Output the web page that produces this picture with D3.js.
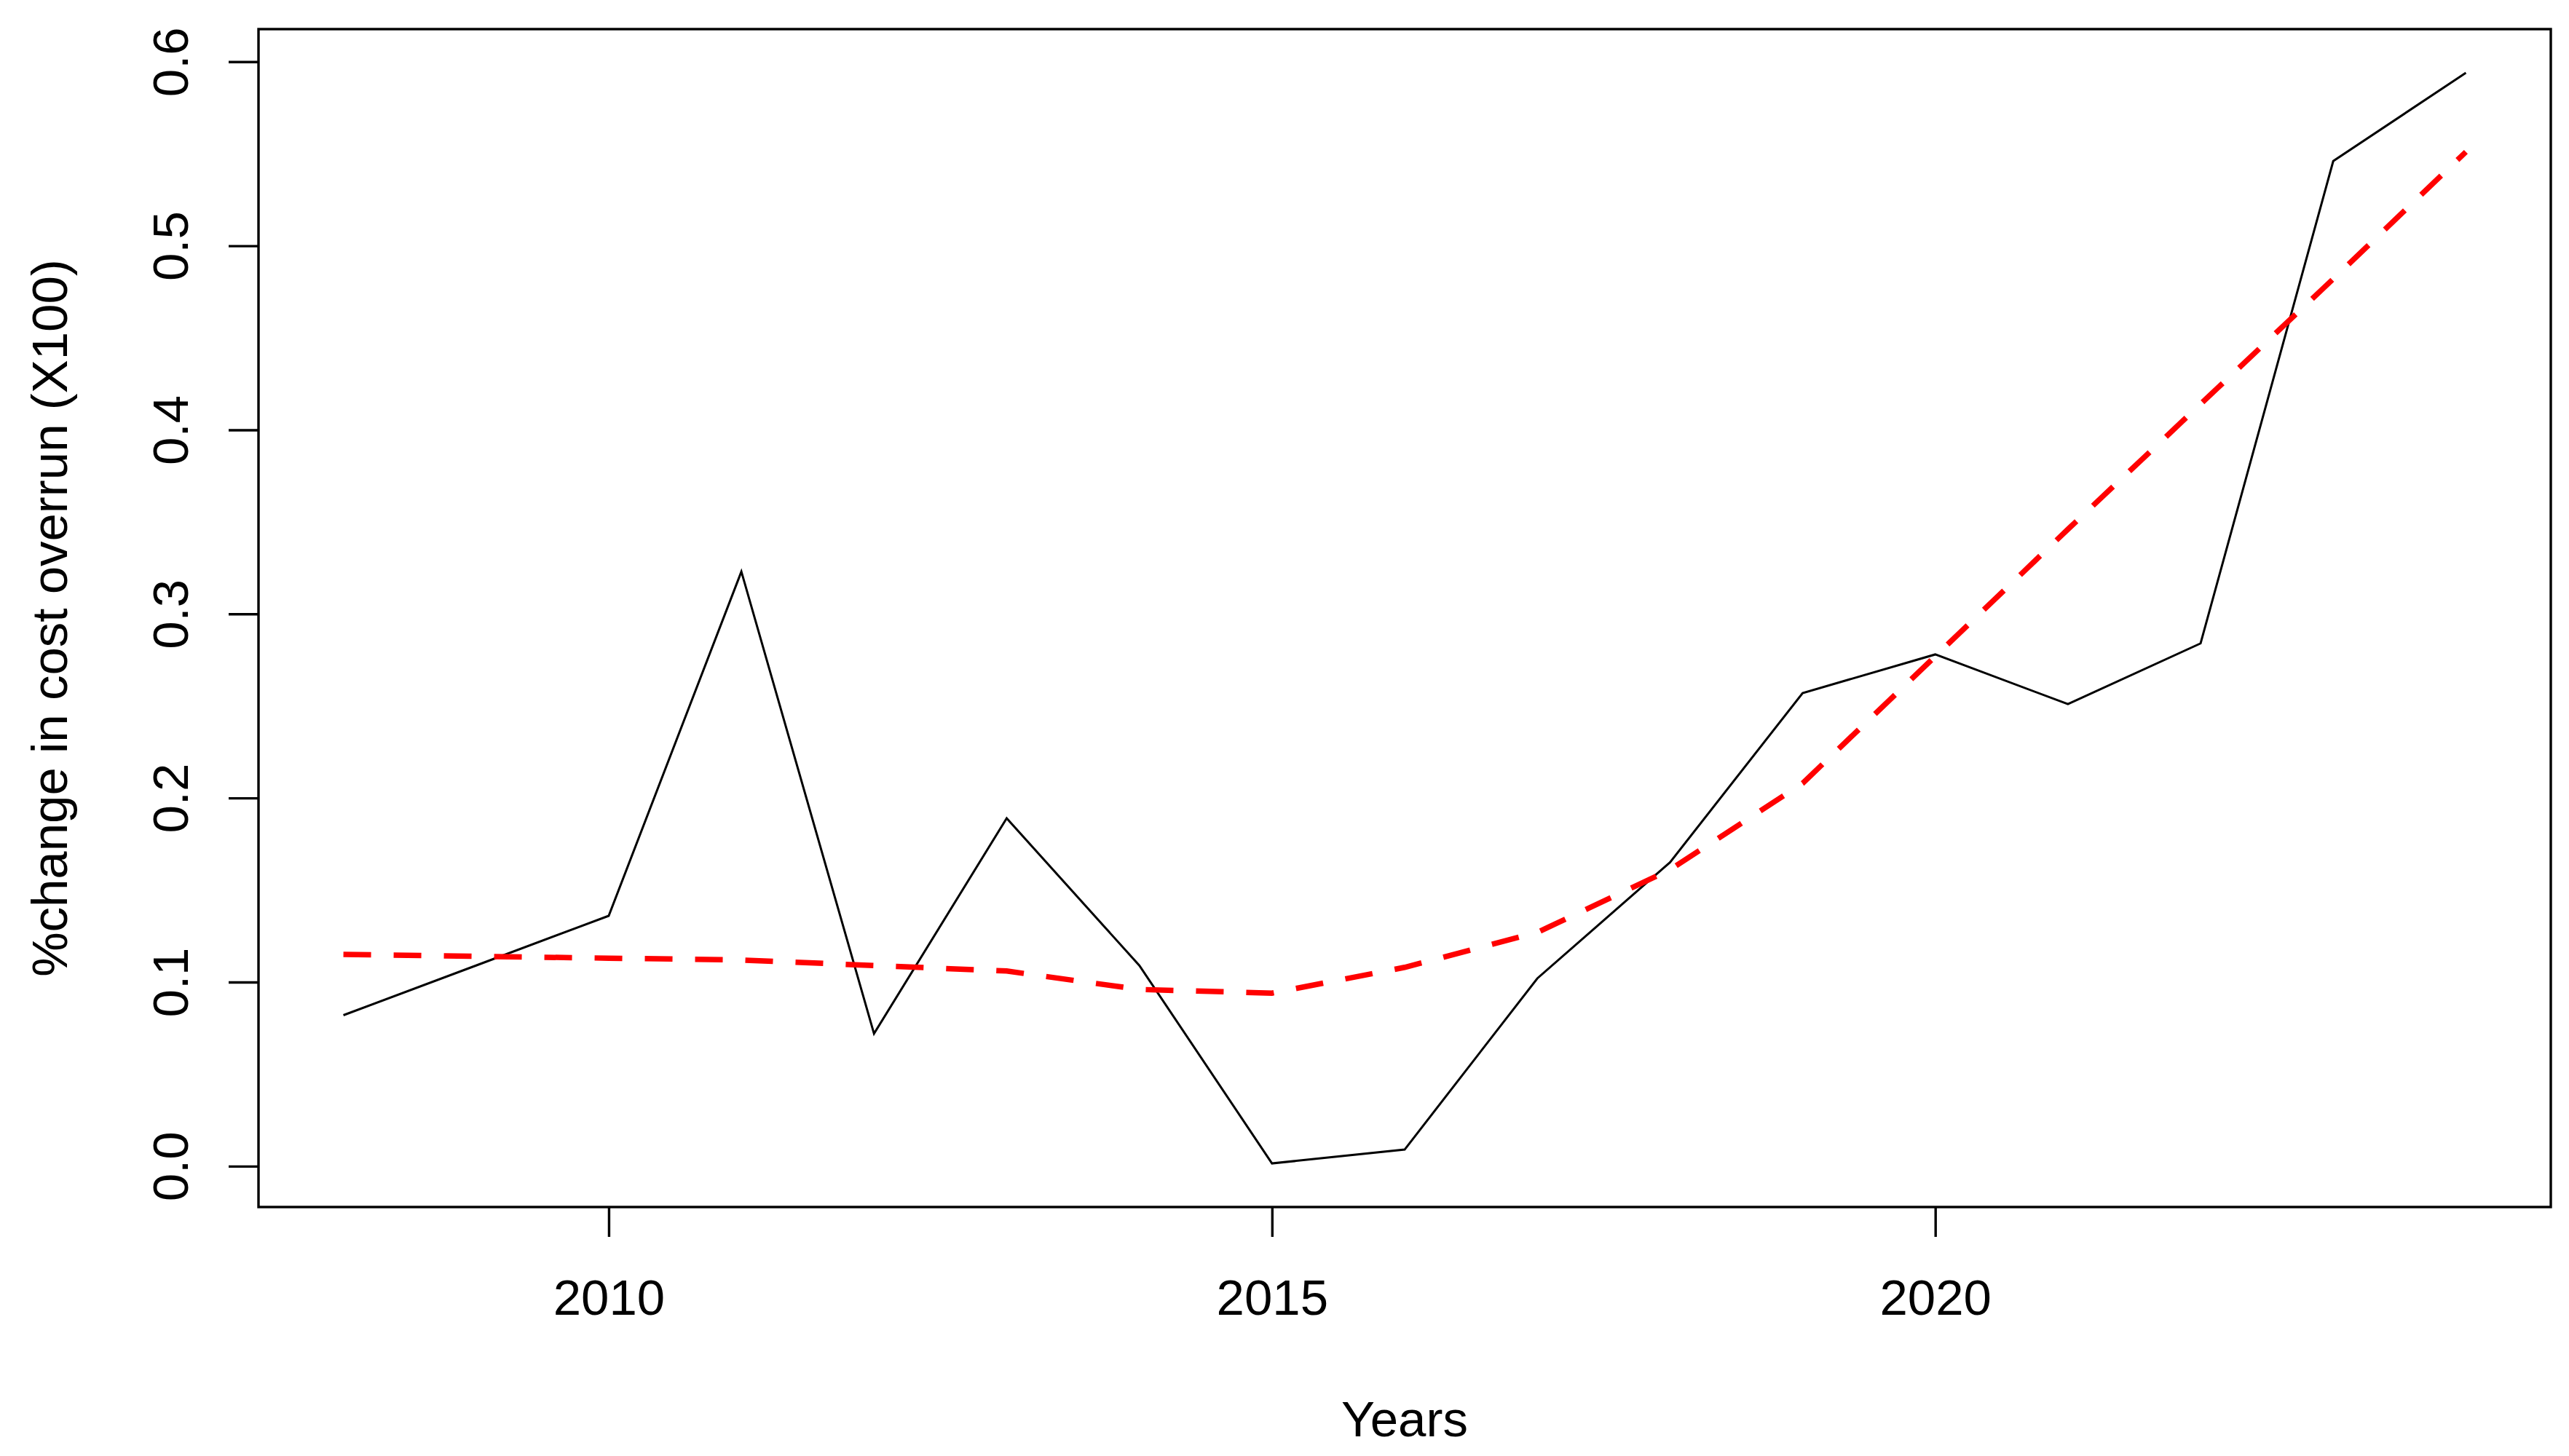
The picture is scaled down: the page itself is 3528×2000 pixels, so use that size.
<!DOCTYPE html>
<html>
<head>
<meta charset="utf-8">
<script src="https://cdn.jsdelivr.net/npm/d3@7"></script>
<style>
  html, body { margin: 0; padding: 0; background: #fff; }
  svg { display: block; }
  text { font-family: "Liberation Sans", Arial, sans-serif; fill: #000; }
</style>
</head>
<body>
<script>
// ---- data ----
const years = [2008, 2009, 2010, 2011, 2012, 2013, 2014, 2015, 2016, 2017, 2018, 2019, 2020, 2021, 2022, 2023, 2024];
const overrun = [0.082, 0.109, 0.136, 0.323, 0.072, 0.189, 0.109, 0.0015, 0.009, 0.102, 0.165, 0.257, 0.278, 0.251, 0.284, 0.546, 0.594];
const trend = [0.115, 0.114, 0.113, 0.112, 0.109, 0.106, 0.096, 0.094, 0.108, 0.127, 0.161, 0.208, 0.277, 0.346, 0.414, 0.482, 0.551];
const xTicks = [2010, 2015, 2020];
const yTicks = [0.0, 0.1, 0.2, 0.3, 0.4, 0.5, 0.6];
const xTitle = "Years";
const yTitle = "%change in cost overrun (X100)";

// ---- layout ----
const W = 3528, H = 2000;
const plot = { left: 355, right: 3503, top: 40, bottom: 1658 };
const fontSize = 69;

const svg = d3.select("body").append("svg").attr("width", W).attr("height", H);
svg.append("rect").attr("width", W).attr("height", H).attr("fill", "#fff");

// R-style 4% extension of the data range
function extend(ext) { const d = (ext[1] - ext[0]) * 0.04; return [ext[0] - d, ext[1] + d]; }
const x = d3.scaleLinear().domain(extend(d3.extent(years))).range([plot.left, plot.right]);
const y = d3.scaleLinear().domain(extend(d3.extent(overrun))).range([plot.bottom, plot.top]);

const pts = years.map((yr, i) => ({ yr, v: overrun[i], t: trend[i] }));

// black data line
svg.append("path")
  .datum(pts)
  .attr("fill", "none")
  .attr("stroke", "#000")
  .attr("stroke-width", 3)
  .attr("stroke-linejoin", "miter")
  .attr("d", d3.line().x(d => x(d.yr)).y(d => y(d.v)));

// red dashed trend
svg.append("path")
  .datum(pts)
  .attr("fill", "none")
  .attr("stroke", "#ff0000")
  .attr("stroke-width", 7.5)
  .attr("stroke-dasharray", "38,31")
  .attr("d", d3.line().x(d => x(d.yr)).y(d => y(d.t)));

// x axis
const xAxis = svg.append("g")
  .attr("transform", `translate(0,${plot.bottom})`)
  .call(d3.axisBottom(x).tickValues(xTicks).tickFormat(d3.format("d")).tickSize(41).tickPadding(0));
xAxis.select(".domain").remove();
xAxis.selectAll(".tick line").attr("stroke", "#000").attr("stroke-width", 3.4);
xAxis.selectAll(".tick text")
  .attr("y", 148).attr("dy", null)
  .attr("font-size", fontSize)
  .attr("font-family", "Liberation Sans, Arial, sans-serif")
  .attr("fill", "#000");

// y axis
const yAxis = svg.append("g")
  .attr("transform", `translate(${plot.left},0)`)
  .call(d3.axisLeft(y).tickValues(yTicks).tickFormat(d3.format(".1f")).tickSize(41).tickPadding(0));
yAxis.select(".domain").remove();
yAxis.selectAll(".tick line").attr("stroke", "#000").attr("stroke-width", 3.4);
yAxis.selectAll(".tick text")
  .attr("x", null).attr("dy", null)
  .attr("text-anchor", "middle")
  .attr("transform", "translate(-97,0) rotate(-90)")
  .attr("font-size", fontSize)
  .attr("font-family", "Liberation Sans, Arial, sans-serif")
  .attr("fill", "#000");

// plot box
svg.append("rect")
  .attr("x", plot.left).attr("y", plot.top)
  .attr("width", plot.right - plot.left).attr("height", plot.bottom - plot.top)
  .attr("fill", "none").attr("stroke", "#000").attr("stroke-width", 3.4);

// axis titles
svg.append("text")
  .attr("x", (plot.left + plot.right) / 2).attr("y", 1973)
  .attr("text-anchor", "middle").attr("font-size", fontSize)
  .text(xTitle);
svg.append("text")
  .attr("transform", `translate(92,${(plot.top + plot.bottom) / 2}) rotate(-90)`)
  .attr("text-anchor", "middle").attr("font-size", fontSize)
  .text(yTitle);
</script>
</body>
</html>
